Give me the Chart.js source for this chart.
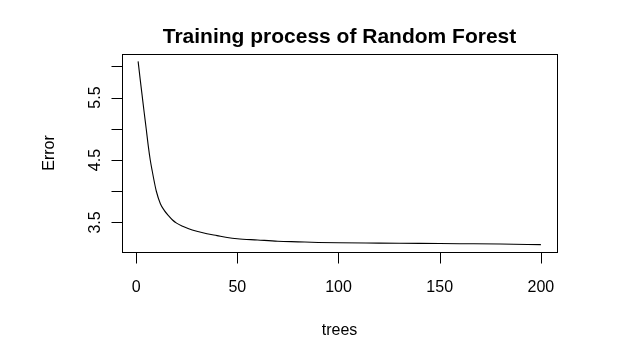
<!DOCTYPE html>
<html>
<head>
<meta charset="utf-8">
<script src="https://cdn.jsdelivr.net/npm/chart.js@4/dist/chart.umd.min.js"></script>
<style>
  html, body { margin: 0; padding: 0; background: #ffffff; }
  #wrap { width: 639px; height: 350px; position: relative; }
</style>
</head>
<body>
<div id="wrap"><canvas id="c" width="639" height="350"></canvas></div>
<script>
// ---- data ----
const trees = [1, 2, 3, 4, 5, 6, 7, 8, 9, 10, 12, 14, 16, 18, 20, 23, 26, 30, 35, 40, 45, 50, 60, 70, 80, 90, 100, 120, 140, 160, 180, 200];
const errorValues = [6.08, 5.80, 5.53, 5.26, 5.00, 4.73, 4.50, 4.32, 4.15, 4.00, 3.80, 3.69, 3.61, 3.54, 3.49, 3.44, 3.40, 3.36, 3.32, 3.29, 3.26, 3.24, 3.22, 3.20, 3.19, 3.18, 3.175, 3.17, 3.165, 3.16, 3.155, 3.145];
const xTicks = [0, 50, 100, 150, 200];
const yTicks = [3.5, 4.0, 4.5, 5.0, 5.5, 6.0];
const yTickLabels = ['3.5', '', '4.5', '', '5.5', ''];
const titleText = 'Training process of Random Forest';
const xTitle = 'trees';
const yTitle = 'Error';

// R-style 4% axis extension
function extend(arr) {
  const lo = Math.min(...arr), hi = Math.max(...arr);
  const d = (hi - lo) * 0.04;
  return [lo - d, hi + d];
}
const [xMin, xMax] = extend(trees);
const [yMin, yMax] = extend(errorValues);

const points = trees.map((t, i) => ({ x: t, y: errorValues[i] }));

const FONT = '"Liberation Sans", Arial, Helvetica, sans-serif';

const rAxes = {
  id: 'rAxes',
  afterDraw(chart) {
    const ctx = chart.ctx;
    const a = chart.chartArea;
    const xs = chart.scales.x, ys = chart.scales.y;
    ctx.save();
    ctx.strokeStyle = '#000';
    ctx.lineWidth = 1;
    // box
    const L = Math.round(a.left) + 0.5, R = Math.round(a.right) + 0.5;
    const T = Math.round(a.top) + 0.5, B = Math.round(a.bottom) + 0.5;
    ctx.strokeRect(L, T, R - L, B - T);
    // x ticks
    ctx.beginPath();
    xTicks.forEach(v => {
      const px = Math.round(xs.getPixelForValue(v)) + 0.5;
      ctx.moveTo(px, B); ctx.lineTo(px, B + 11);
    });
    // y ticks
    yTicks.forEach(v => {
      const py = Math.round(ys.getPixelForValue(v)) + 0.5;
      ctx.moveTo(L, py); ctx.lineTo(L - 11, py);
    });
    ctx.stroke();
    ctx.fillStyle = '#000';
    // x labels
    ctx.font = '16px ' + FONT;
    ctx.textAlign = 'center';
    ctx.textBaseline = 'alphabetic';
    xTicks.forEach(v => {
      ctx.fillText(String(v), xs.getPixelForValue(v), 292);
    });
    // y labels (rotated)
    yTicks.forEach((v, i) => {
      const lab = yTickLabels[i];
      if (!lab) return;
      ctx.save();
      ctx.translate(100, ys.getPixelForValue(v));
      ctx.rotate(-Math.PI / 2);
      ctx.fillText(lab, 0, 0);
      ctx.restore();
    });
    // axis titles
    const cx = (a.left + a.right) / 2;
    ctx.fillText(xTitle, cx, 335);
    ctx.save();
    ctx.translate(53.5, (a.top + a.bottom) / 2);
    ctx.rotate(-Math.PI / 2);
    ctx.fillText(yTitle, 0, 0);
    ctx.restore();
    // main title
    ctx.font = 'bold 21px ' + FONT;
    ctx.fillText(titleText, cx, 43);
    ctx.restore();
  }
};

new Chart(document.getElementById('c'), {
  type: 'line',
  data: {
    datasets: [{
      data: points,
      borderColor: '#000',
      borderWidth: 1.1,
      pointRadius: 0,
      fill: false,
      cubicInterpolationMode: 'monotone'
    }]
  },
  options: {
    responsive: false,
    animation: false,
    devicePixelRatio: 1,
    layout: { padding: { left: 122, right: 82, top: 54, bottom: 98 } },
    plugins: { legend: { display: false }, tooltip: { enabled: false }, title: { display: false } },
    scales: {
      x: { type: 'linear', min: xMin, max: xMax, display: false },
      y: { type: 'linear', min: yMin, max: yMax, display: false }
    }
  },
  plugins: [rAxes]
});
</script>
</body>
</html>
